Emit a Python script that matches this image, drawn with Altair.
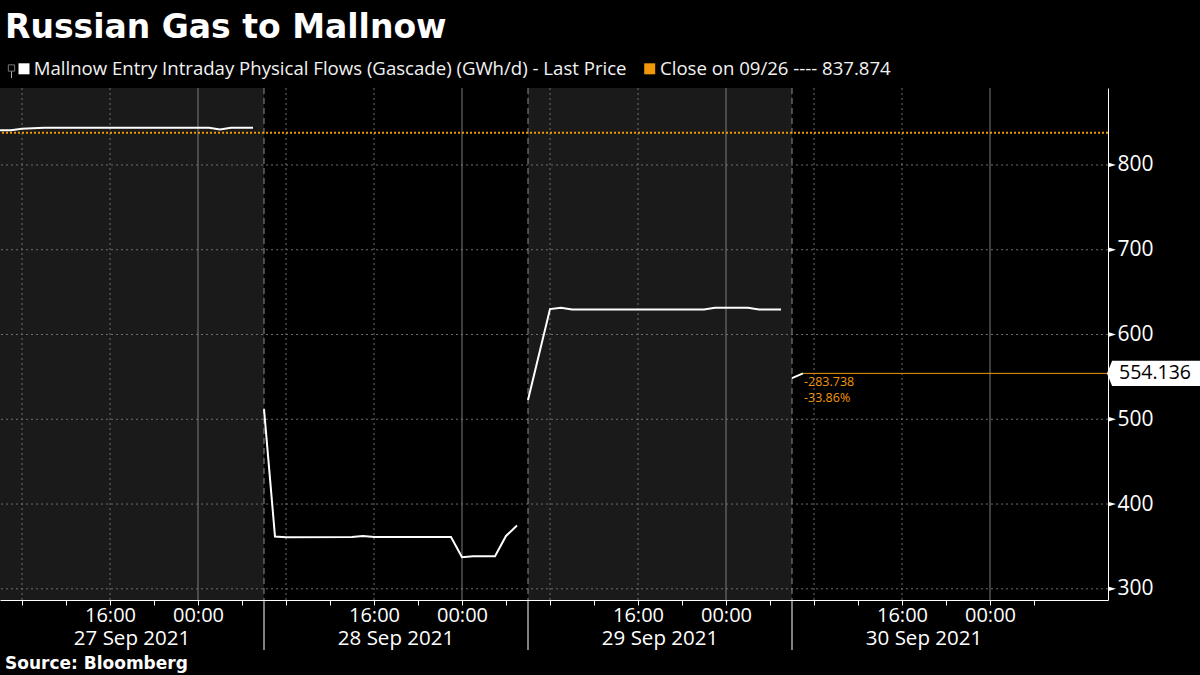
import altair as alt
import pandas as pd
import jinja2

# ---------------- data ----------------
s1_t = ["2021-09-27T06:00", "2021-09-27T07:00", "2021-09-27T08:00", "2021-09-27T10:00",
        "2021-09-28T01:00", "2021-09-28T02:00", "2021-09-28T03:00", "2021-09-28T05:00"]
s1_v = [841.0, 841.0, 842.6, 843.8, 843.8, 841.8, 843.8, 843.8]

s2_t = ["2021-09-28T06:00", "2021-09-28T07:00", "2021-09-28T08:00", "2021-09-28T14:00",
        "2021-09-28T15:00", "2021-09-28T16:00", "2021-09-28T23:00", "2021-09-29T00:00",
        "2021-09-29T01:00", "2021-09-29T03:00", "2021-09-29T04:00", "2021-09-29T05:00"]
s2_v = [512.0, 361.7, 360.9, 361.0, 362.4, 361.0, 361.0, 337.2, 338.4, 338.4, 362.4, 374.7]

s3_t = ["2021-09-29T06:00", "2021-09-29T08:00", "2021-09-29T09:00", "2021-09-29T10:00",
        "2021-09-29T22:00", "2021-09-29T23:00", "2021-09-30T02:00", "2021-09-30T03:00",
        "2021-09-30T05:00"]
s3_v = [522.8, 630.0, 631.6, 629.6, 629.6, 631.6, 631.6, 629.6, 629.6]

s4_t = ["2021-09-30T06:00", "2021-09-30T07:00"]
s4_v = [548.5, 554.136]

close_value = 837.874
last_value = 554.136

shade_start = ["2021-09-27T06:00", "2021-09-29T06:00"]
shade_end = ["2021-09-28T06:00", "2021-09-30T06:00"]

boundaries = ["2021-09-28T06:00", "2021-09-29T06:00", "2021-09-30T06:00"]
grid_dashed = ["2021-09-27T08:00", "2021-09-27T16:00", "2021-09-28T08:00", "2021-09-28T16:00",
               "2021-09-29T08:00", "2021-09-29T16:00", "2021-09-30T08:00", "2021-09-30T16:00"]
grid_midnight = ["2021-09-28T00:00", "2021-09-29T00:00", "2021-09-30T00:00", "2021-10-01T00:00"]

tick_times = ["2021-09-27T08:00", "2021-09-27T12:00", "2021-09-27T16:00", "2021-09-27T20:00",
              "2021-09-28T00:00", "2021-09-28T04:00", "2021-09-28T08:00", "2021-09-28T12:00",
              "2021-09-28T16:00", "2021-09-28T20:00", "2021-09-29T00:00", "2021-09-29T04:00",
              "2021-09-29T08:00", "2021-09-29T12:00", "2021-09-29T16:00", "2021-09-29T20:00",
              "2021-09-30T00:00", "2021-09-30T04:00", "2021-09-30T08:00", "2021-09-30T12:00",
              "2021-09-30T16:00", "2021-09-30T20:00", "2021-10-01T00:00", "2021-10-01T04:00"]

day_centers = ["2021-09-27T18:00", "2021-09-28T18:00", "2021-09-29T18:00", "2021-09-30T18:00"]
day_labels = ["27 Sep 2021", "28 Sep 2021", "29 Sep 2021", "30 Sep 2021"]

y_ticks = [300, 400, 500, 600, 700, 800]

x_domain = ["2021-09-27T06:00:00", "2021-10-01T10:43:38"]
y_domain = [286.8, 890.8]

legend_labels = ["Mallnow Entry Intraday Physical Flows (Gascade) (GWh/d) - Last Price",
                 f"Close on 09/26 ---- {close_value:.3f}"]

# ---------------- style ----------------
W, H = 1108, 512
ORANGE = "#f0960a"
FONT = "Open Sans"


def dt(s):
    ts = pd.Timestamp(s)
    return alt.DateTime(year=ts.year, month=ts.month, date=ts.day,
                        hours=ts.hour, minutes=ts.minute, seconds=ts.second)


xs = alt.Scale(domain=[dt(d) for d in x_domain])
ys = alt.Scale(domain=y_domain, nice=False, zero=False)

x_axis = alt.Axis(
    values=[dt(t) for t in tick_times],
    labelExpr="(hours(datum.value) == 16 || hours(datum.value) == 0) ? timeFormat(datum.value, '%H:%M') : ''",
    tickColor="white", tickSize=5, tickWidth=1, domainColor="white", domainWidth=1,
    labelColor="white", labelFont=FONT, labelFontSize=20, labelPadding=0,
    labelOverlap=False, labelFlush=False, labelAngle=0, grid=False, title=None, zindex=2,
)
y_axis = alt.Axis(
    orient="right", values=y_ticks, grid=False, ticks=False,
    domainColor="white", domainWidth=1, labelColor="white", labelFont=FONT,
    labelFontSize=21, labelPadding=9, labelFlush=False, title=None, zindex=2,
)


def X(f="t:T"):
    return alt.X(f, scale=xs, axis=x_axis)


def Y(f="v:Q"):
    return alt.Y(f, scale=ys, axis=y_axis)


line_df = pd.DataFrame({
    "t": s1_t + s2_t + s3_t + s4_t,
    "v": s1_v + s2_v + s3_v + s4_v,
    "session": ["s1"] * len(s1_t) + ["s2"] * len(s2_t) + ["s3"] * len(s3_t) + ["s4"] * len(s4_t),
})

shade = alt.Chart(pd.DataFrame({"t": shade_start, "t2": shade_end})).mark_rect(
    color="#1a1a1a", clip=True).encode(x=X(), x2="t2:T", y=alt.value(0), y2=alt.value(H))

hgrid = alt.Chart(pd.DataFrame({"v": y_ticks})).mark_rule(
    color="#6e6e6e", strokeDash=[2, 3], strokeWidth=1).encode(y=Y())

vgrid = alt.Chart(pd.DataFrame({"t": grid_dashed})).mark_rule(
    color="#6e6e6e", strokeDash=[2, 3], strokeWidth=1).encode(x=X())

vmid = alt.Chart(pd.DataFrame({"t": grid_midnight})).mark_rule(
    color="#7c7c7c", strokeWidth=1).encode(x=X())

vbound = alt.Chart(pd.DataFrame({"t": boundaries})).mark_rule(
    color="#8c8c8c", strokeDash=[6, 4], strokeWidth=1).encode(x=X())

long_ticks = alt.Chart(pd.DataFrame({"t": boundaries})).mark_rule(
    color="white", strokeWidth=1).encode(x=X(), y=alt.value(H), y2=alt.value(H + 50))

close_rule = alt.Chart(pd.DataFrame({"v": [close_value]})).mark_rule(
    color=ORANGE, strokeDash=[2, 2], strokeWidth=2).encode(y=Y())

line = alt.Chart(line_df).mark_line(color="white", strokeWidth=2, clip=True).encode(
    x=X(), y=Y(), detail="session:N",
)

last_df = pd.DataFrame({
    "t": [s4_t[-1]], "v": [last_value],
    "label": [f"{last_value:.3f}"],
    "chg": [f"-{close_value - last_value:.3f}"],
    "pct": [f"-{(close_value - last_value) / close_value * 100:.2f}%"],
})

last_rule = alt.Chart(last_df).mark_rule(color=ORANGE, strokeWidth=1).encode(
    x=X(), x2=alt.value(W), y=Y())

chg_text = alt.Chart(last_df).mark_text(
    color=ORANGE, font=FONT, fontSize=12.5, align="left", baseline="middle", dx=1, dy=9
).encode(x=X(), y=Y(), text="chg:N")
pct_text = alt.Chart(last_df).mark_text(
    color=ORANGE, font=FONT, fontSize=12.5, align="left", baseline="middle", dx=1, dy=25
).encode(x=X(), y=Y(), text="pct:N")

tri = alt.Chart(pd.DataFrame({"v": y_ticks})).mark_point(
    shape="M -1 -0.6 L 1 0 L -1 0.6 Z", filled=True, color="white", opacity=1, size=64, strokeWidth=0
).encode(x=alt.value(W + 4), y=Y())

tag = alt.Chart(last_df).mark_point(
    shape="M -1 0 L -0.89 -0.27 L 1 -0.27 L 1 0.27 L -0.89 0.27 Z",
    filled=True, color="white", opacity=1, size=8649, strokeWidth=0
).encode(x=alt.value(W + 45.5), y=Y())

tag_text = alt.Chart(last_df).mark_text(
    color="black", font=FONT, fontSize=19.5, align="left", baseline="middle"
).encode(x=alt.value(W + 11), y=Y(), text="label:N")

day_text = alt.Chart(pd.DataFrame({"t": day_centers, "label": day_labels})).mark_text(
    color="white", font=FONT, fontSize=20.5, align="center", baseline="middle"
).encode(x=X(), y=alt.value(H + 39), text="label:N")

title = alt.Chart(pd.DataFrame({"s": ["Russian Gas to Mallnow"]})).mark_text(
    color="white", font="DejaVu Sans", fontWeight="bold", fontSize=33,
    align="left", baseline="alphabetic"
).encode(x=alt.value(5), y=alt.value(-50), text="s:N")

legend_sq = alt.Chart(pd.DataFrame({"c": ["white", ORANGE], "px": [24, 649.7]})).mark_square(
    size=121, opacity=1
).encode(x=alt.X("px:Q", scale=None), y=alt.value(-19.2), color=alt.Color("c:N", scale=None))

legend_txt = alt.Chart(pd.DataFrame({"s": legend_labels, "px": [33.7, 660]})).mark_text(
    color="#f2f2f2", font=FONT, fontSize=18.6, align="left", baseline="alphabetic"
).encode(x=alt.X("px:Q", scale=None), y=alt.value(-13), text="s:N")

icon = alt.Chart(pd.DataFrame({"a": [0]})).mark_square(
    filled=False, color="#aaaaaa", size=40, strokeWidth=1
).encode(x=alt.value(11.5), y=alt.value(-20))
icon_stem = alt.Chart(pd.DataFrame({"a": [0]})).mark_rule(color="#aaaaaa", strokeWidth=1).encode(
    x=alt.value(11.5), y=alt.value(-16.5), y2=alt.value(-10))

source = alt.Chart(pd.DataFrame({"s": ["Source: Bloomberg"]})).mark_text(
    color="white", font="DejaVu Sans", fontWeight="bold", fontSize=17,
    align="left", baseline="alphabetic"
).encode(x=alt.value(5), y=alt.value(H + 69), text="s:N")

chart = alt.layer(
    shade, hgrid, vgrid, vmid, vbound, close_rule, line, last_rule, chg_text, pct_text,
    long_ticks, tri, tag, tag_text, day_text, title, legend_sq, legend_txt, icon, icon_stem, source,
).properties(
    width=W, height=H,
    padding={"left": 0, "top": 88, "right": 92, "bottom": 75},
    autosize=alt.AutoSizeParams(type="none"),
    background="black",
).configure_view(stroke=None)

PAGE = jinja2.Template("""<!DOCTYPE html>
<html>
<head>
  <style>
    html, body { margin: 0; padding: 0; background: #000000; overflow: hidden; }
    #{{ output_div }}.vega-embed { width: 100%; display: flex; }
  </style>
  <script type="text/javascript" src="{{ base_url }}/vega@{{ vega_version }}"></script>
  <script type="text/javascript" src="{{ base_url }}/vega-lite@{{ vegalite_version }}"></script>
  <script type="text/javascript" src="{{ base_url }}/vega-embed@{{ vegaembed_version }}"></script>
</head>
<body>
  <div id="{{ output_div }}"></div>
  <script type="text/javascript">
    var spec = {{ spec }};
    var embedOpt = {{ embed_options }};
    vegaEmbed("#{{ output_div }}", spec, embedOpt).catch(function (error) {
      document.getElementById("{{ output_div }}").innerHTML =
        '<p style="color:red">' + error.message + '</p>';
    });
  </script>
</body>
</html>
""")

try:
    chart.save("out.html", embed_options={"renderer": "svg", "actions": False}, template=PAGE)
except Exception:
    chart.save("out.html", embed_options={"renderer": "svg", "actions": False})
